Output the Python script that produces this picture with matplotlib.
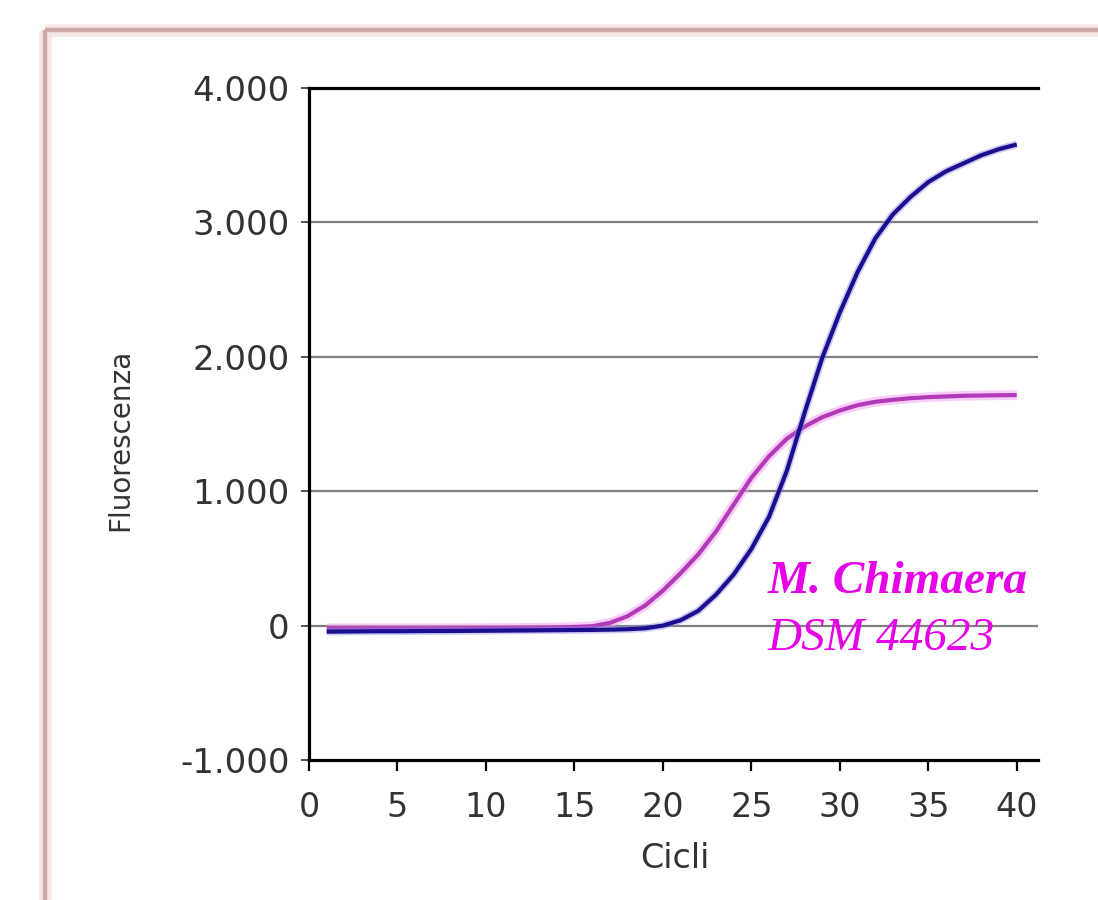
import matplotlib
matplotlib.use("Agg")
import matplotlib.pyplot as plt
from matplotlib.lines import Line2D

# ---- data ----
cycles = list(range(1, 41))
blue_values = [-45, -44, -43, -42, -42, -41, -40, -40, -39, -38,
               -37, -36, -35, -34, -33, -32, -30, -27, -20, 0,
               40, 110, 230, 380, 570, 810, 1150, 1580, 1990, 2330,
               2630, 2880, 3060, 3190, 3300, 3380, 3440, 3500, 3545, 3580]
magenta_values = [-20, -20, -20, -20, -20, -20, -20, -20, -19, -18,
                  -18, -17, -16, -14, -10, -5, 20, 70, 150, 260,
                  390, 530, 700, 900, 1100, 1260, 1390, 1480, 1550, 1600,
                  1640, 1665, 1680, 1692, 1700, 1705, 1710, 1712, 1714, 1715]
x_ticks = [0, 5, 10, 15, 20, 25, 30, 35, 40]
y_ticks = [-1000, 0, 1000, 2000, 3000, 4000]
y_tick_labels = ["-1.000", "0", "1.000", "2.000", "3.000", "4.000"]
x_label = "Cicli"
y_label = "Fluorescenza"
annot_line1 = "M. Chimaera"
annot_line2 = "DSM 44623"

W, H = 1098, 900
fig = plt.figure(figsize=(W / 100, H / 100), dpi=100)
fig.patch.set_facecolor("white")

# outer pinkish frame (top and left edges visible)
for lw, col in [(9, "#F7E6E6"), (3.2, "#CDAAAA")]:
    fig.add_artist(Line2D([45 / W, 1.0], [1 - 30 / H, 1 - 30 / H],
                          transform=fig.transFigure, color=col, lw=lw,
                          solid_capstyle="butt"))
    fig.add_artist(Line2D([45 / W, 45 / W], [0, 1 - 30 / H],
                          transform=fig.transFigure, color=col, lw=lw,
                          solid_capstyle="butt"))

ax = fig.add_axes([309 / W, 1 - 760 / H, 729 / W, 672 / H])
ax.set_xlim(0, 41.2)
ax.set_ylim(-1000, 4000)

# gridlines
for v in [0, 1000, 2000, 3000]:
    ax.axhline(v, color="#7F7F7F", lw=1.6, zorder=1)

# curves
ax.plot(cycles, magenta_values, color="#F4A6F4", lw=7, alpha=0.55,
        solid_capstyle="butt", solid_joinstyle="round", zorder=2)
ax.plot(cycles, magenta_values, color="#B23AB8", lw=3, zorder=3,
        solid_capstyle="butt", solid_joinstyle="round")
ax.plot(cycles, blue_values, color="#8C8CE8", lw=5.5, alpha=0.45,
        solid_capstyle="butt", solid_joinstyle="round", zorder=4)
ax.plot(cycles, blue_values, color="#1B0F8E", lw=3, zorder=5,
        solid_capstyle="butt", solid_joinstyle="round")

# spines
for s in ["left", "bottom", "top"]:
    ax.spines[s].set_color("black")
    ax.spines[s].set_linewidth(2.3)
ax.spines["right"].set_visible(False)

ax.set_xticks(x_ticks)
ax.set_xticklabels([str(t) for t in x_ticks])
ax.set_yticks(y_ticks)
ax.set_yticklabels(y_tick_labels)
ax.tick_params(axis="x", direction="out", length=8, width=1.6, pad=14,
               labelsize=24, labelcolor="#333333", color="black")
ax.tick_params(axis="y", direction="out", length=6, width=1.2, pad=8,
               labelsize=24.5, labelcolor="#333333", color="#333333")

ax.set_xlabel(x_label, fontsize=24, color="#333333")
ax.xaxis.label.set_va("center")
ax.xaxis.set_label_coords((675 - 309) / 729, (760 - 858) / 672)

ax.set_ylabel(y_label, fontsize=20, color="#333333")
ax.yaxis.label.set_va("center")
ax.yaxis.set_label_coords((120 - 309) / 729, (760 - 440) / 672)

# annotation text
ax.text(25.9, 243, annot_line1, family="Liberation Serif", style="italic",
        weight="bold", fontsize=34, color="#E600E6", ha="left",
        va="baseline", zorder=6)
ax.text(25.9, -182, annot_line2, family="Liberation Serif", style="italic",
        fontsize=34, color="#E600E6", ha="left", va="baseline", zorder=6)

fig.savefig("out.png", dpi=100, facecolor="white")
